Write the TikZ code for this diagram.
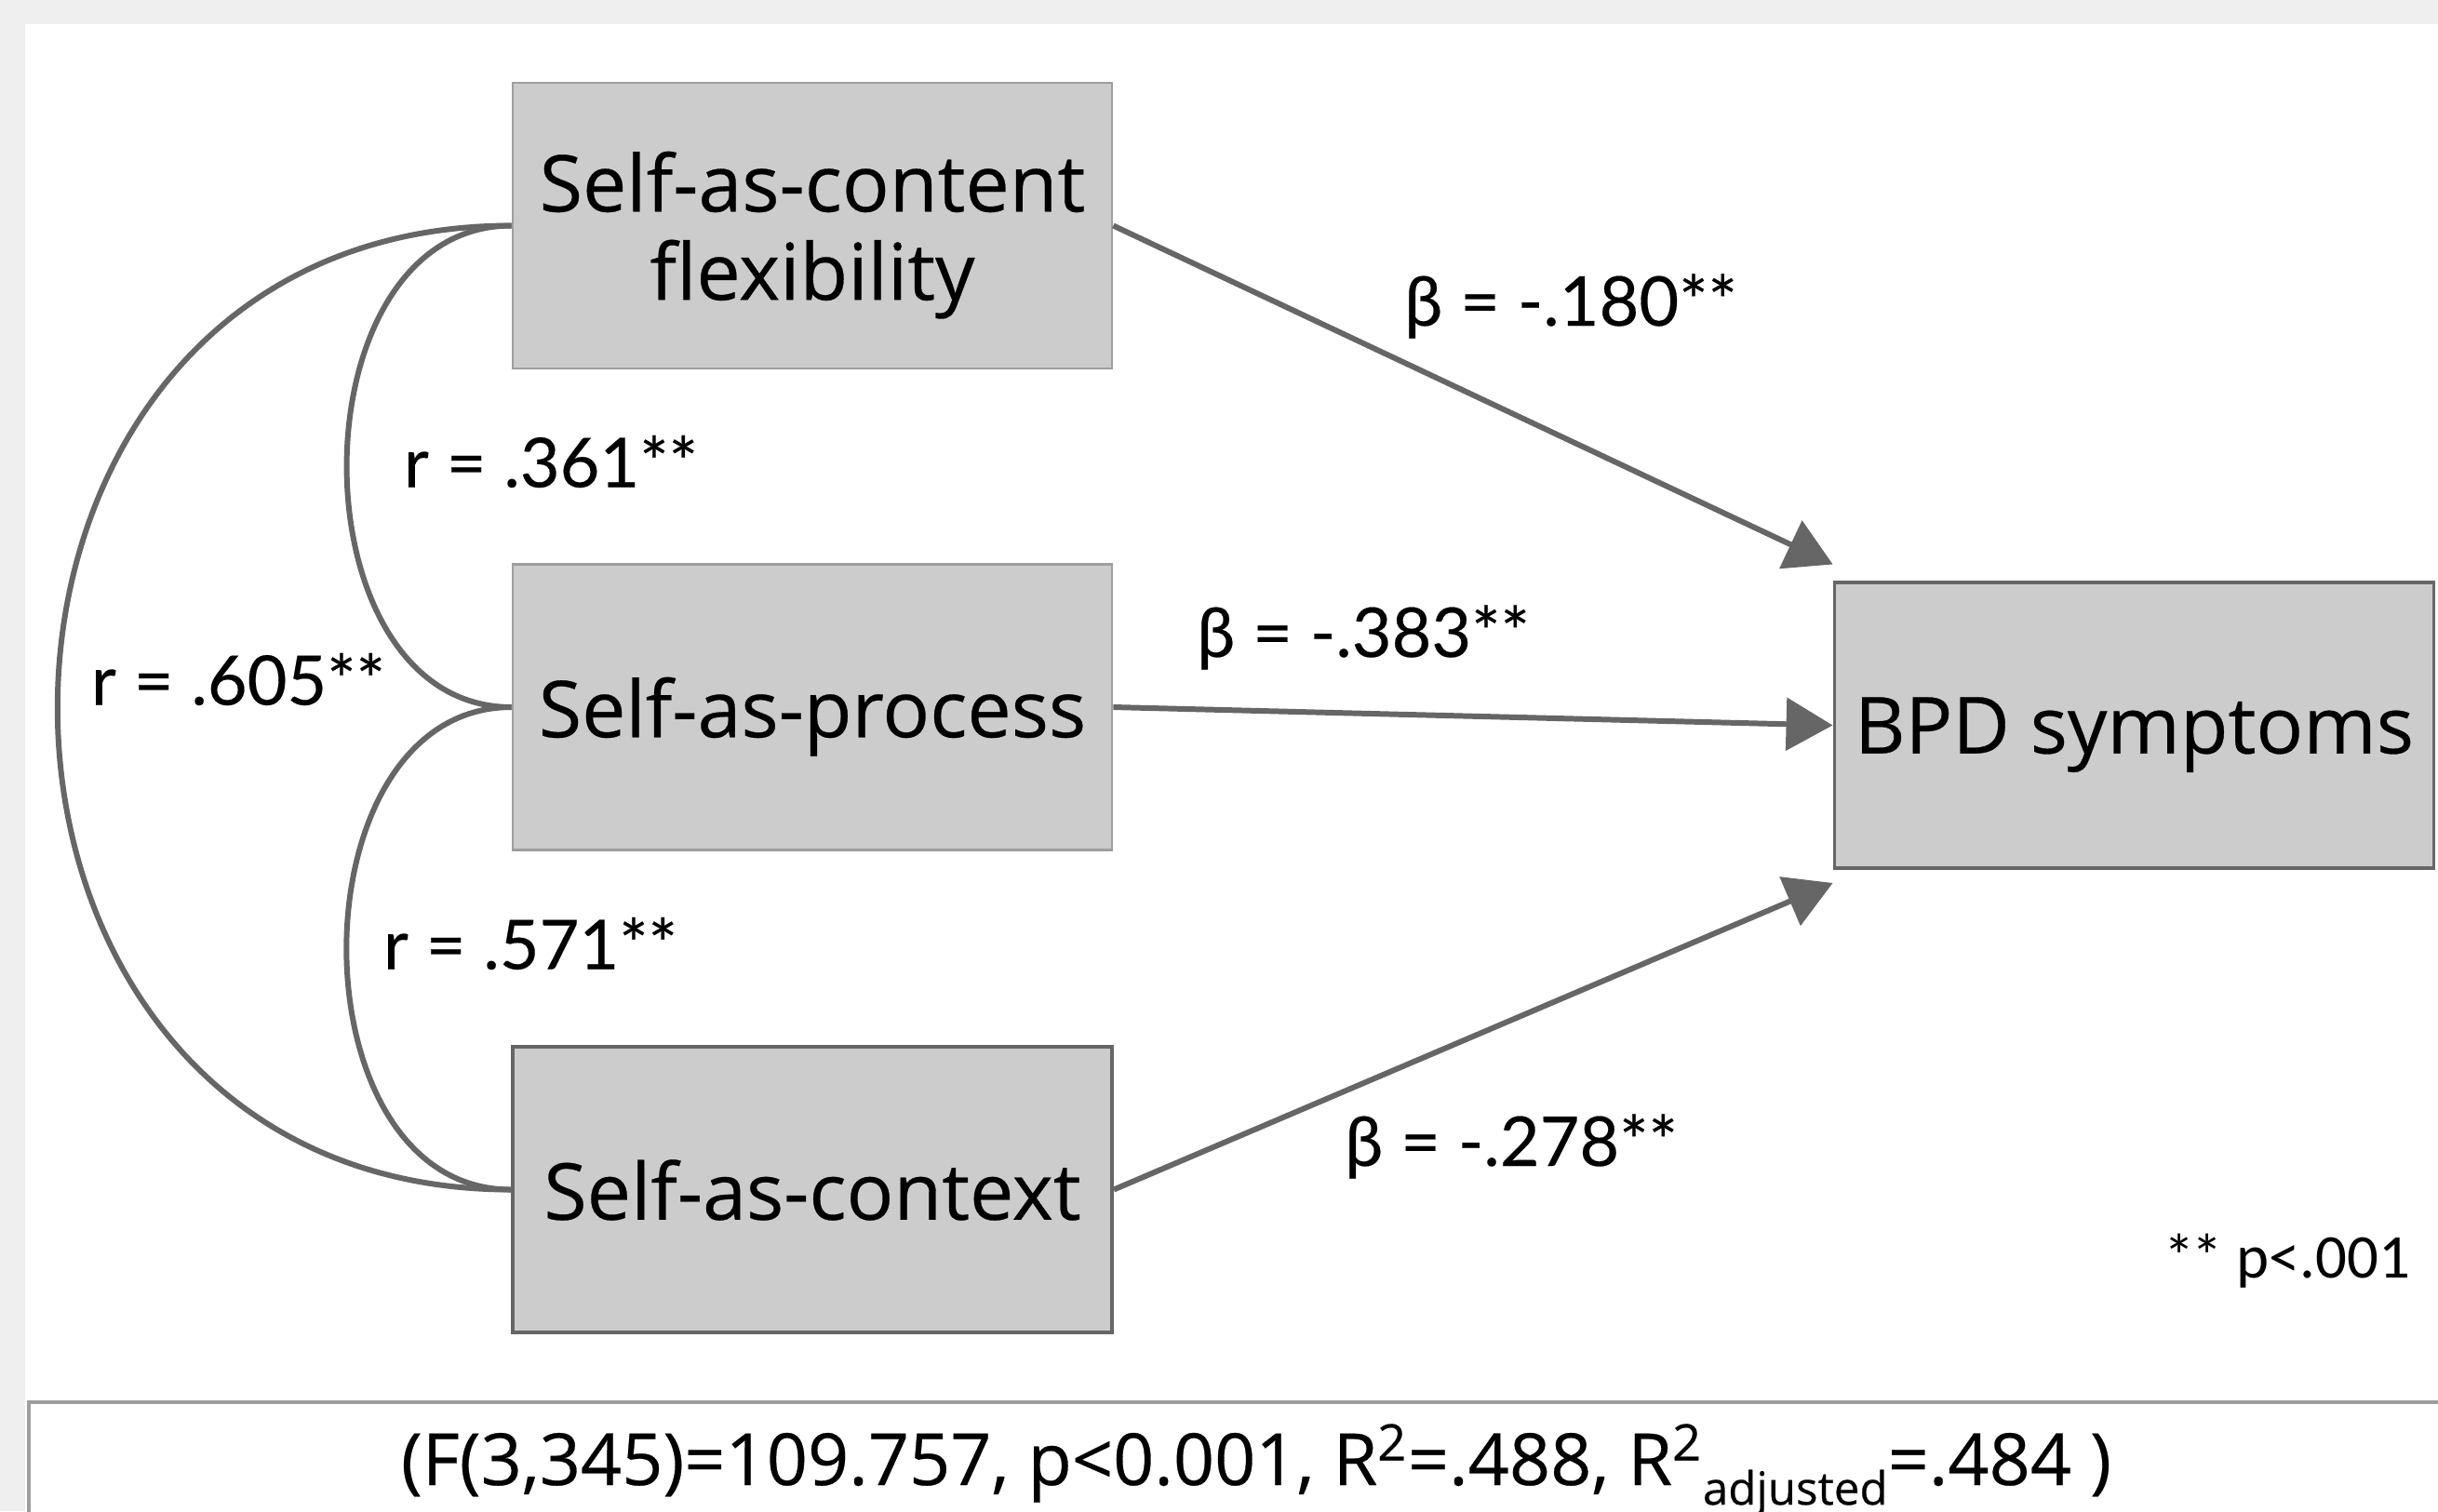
\documentclass[tikz,border=0pt]{standalone}
\usepackage{fontspec}
\setmainfont{Open Sans}[FakeBold=0.35]
\newfontfamily\labfont{Lato}[FakeBold=0.25]
\newfontfamily\notefont{Carlito}
\usepackage{xcolor}
\usepackage{tikz}
\usetikzlibrary{arrows.meta, positioning, calc}

\definecolor{boxgray}{HTML}{CCCCCC}
\definecolor{linegray}{HTML}{666666}
\definecolor{rimgray}{HTML}{9E9E9E}
\definecolor{pagegray}{HTML}{EFEFEF}

\begin{document}
\begin{tikzpicture}[
    >={Triangle[length=0.5cm, width=0.56cm]},
    var/.style={
        draw=rimgray,
        fill=boxgray,
        line width=0.8pt,
        align=center,
        text depth=0pt,
        minimum width=6.44cm,
        minimum height=3.07cm,
        font=\fontsize{24}{27}\selectfont
    },
    dark/.style={draw=linegray, line width=1.1pt},
    link/.style={draw=linegray, line width=1.7pt},
    coef/.style={font=\labfont\fontsize{21}{25}\selectfont}
]

\useasboundingbox (0,0) rectangle (26.2,-16.24);
\fill[pagegray] (0,0) rectangle (26.2,-16.24);
\fill[white] (0.27,-0.26) rectangle (26.2,-16.24);

\node[var] (content) at (8.73,-2.425) {Self-as-content\\flexibility};
\node[var] (process) at (8.73,-7.6) {Self-as-process};
\node[var, dark] (context) at (8.73,-12.785) {Self-as-context};
\node[var, dark] (bpd) at (22.935,-7.795) {BPD symptoms};

% paths to the outcome
\draw[link, ->] (content.east) -- ([yshift=5pt]bpd.north west);
\draw[link, ->] (process.east) -- (bpd.west);
\draw[link, ->] (context.east) -- ([yshift=-4pt]bpd.south west);

% correlations
\draw[link] (content.west) .. controls +(-2.36,0) and +(-2.36,0) .. (process.west);
\draw[link] (process.west) .. controls +(-2.36,0) and +(-2.36,0) .. (context.west);
\draw[link] (content.west) .. controls +(-6.5,0) and +(-6.5,0) .. (context.west);

\node[coef] (b1) at (16.88,-3.29) {β = -.180**};
\node[coef] (b2) at (14.65,-6.85) {β = -.383**};
\node[coef] (b3) at (16.24,-12.32) {β = -.278**};
\node[coef] (r1) at (5.92,-4.96) {r = .361**};
\node[coef] (r2) at (5.70,-10.14) {r = .571**};
\node[coef] (r3) at (2.56,-7.30) {r = .605**};

\node[font=\notefont\fontsize{19}{23}\selectfont] (sig) at (24.58,-13.55) {*\kern-1pt* p<.001};

% model fit
\draw[rimgray, line width=1pt, fill=white] (0.31,-16.6) |- (26.6,-15.07);
\node[anchor=base, font=\fontsize{22}{26}\selectfont] (stats) at (13.5,-15.96)
    {(F(3,345)=109.757, p<0.001, R\textsuperscript{2}=.488, R\textsuperscript{2}\raisebox{-6pt}{\fontsize{14}{16}\selectfont adjusted}=.484 )};

\end{tikzpicture}
\end{document}
